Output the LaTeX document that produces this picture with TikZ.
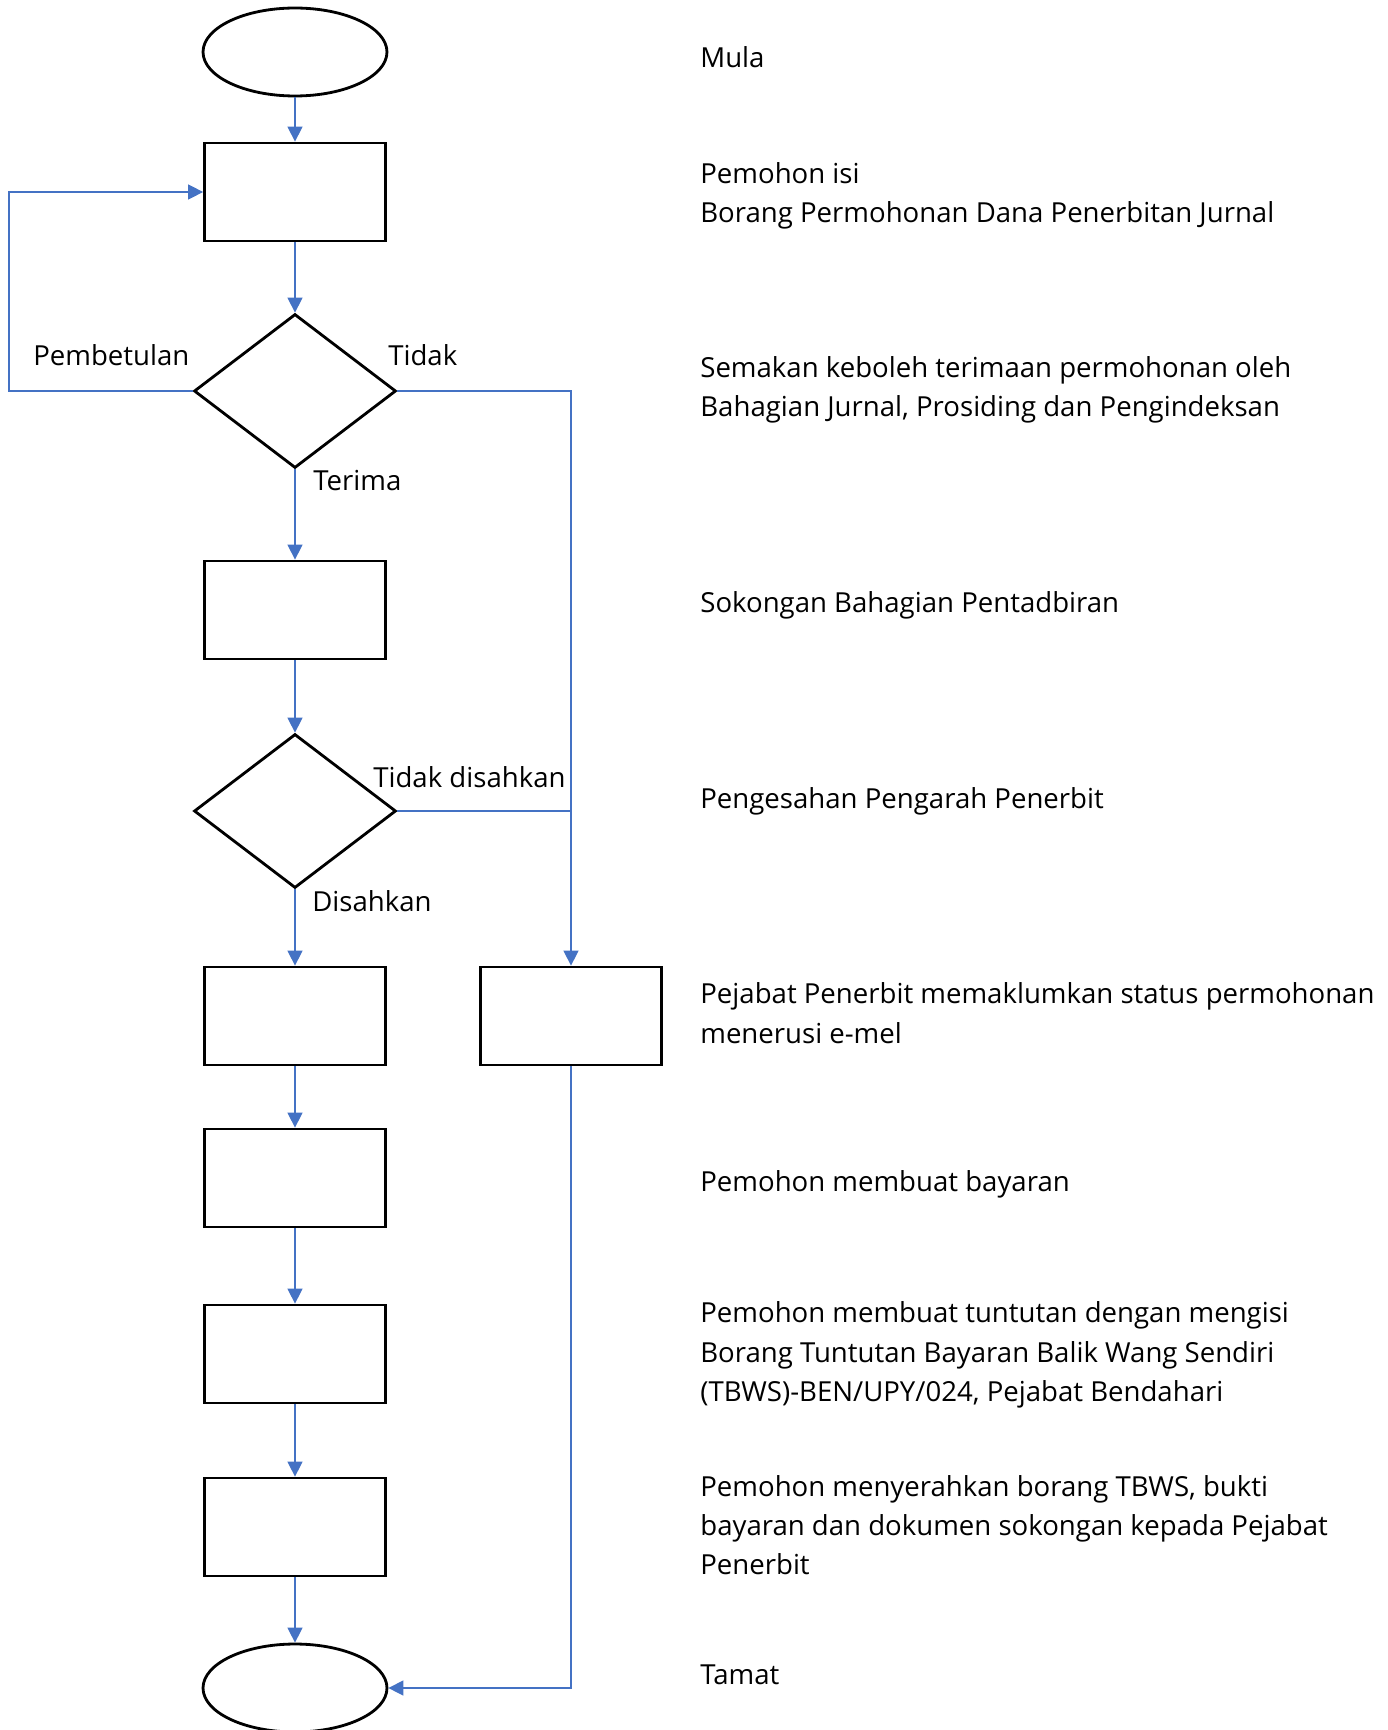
\documentclass[tikz,border=0pt]{standalone}
\usepackage{fontspec}
\setmainfont{Open Sans}
\usetikzlibrary{arrows.meta,shapes.geometric}
\definecolor{flowblue}{HTML}{4472C4}

\begin{document}
\begin{tikzpicture}[x=0.02cm,y=-0.02cm,
  font=\fontsize{15.7}{22.4}\selectfont,
  proc/.style={draw,line width=1.6pt,minimum width=3.62cm,minimum height=1.96cm,inner sep=0pt},
  term/.style={draw,ellipse,line width=1.6pt,minimum width=3.68cm,minimum height=1.76cm,inner sep=0pt},
  dec/.style={draw,diamond,line width=1.6pt,minimum width=4.04cm,minimum height=3.08cm,inner sep=0pt},
  link/.style={draw=flowblue,line width=0.8pt},
  arr/.style={link,-{Triangle[length=0.3cm,width=0.3cm]}},
  desc/.style={anchor=west,align=left,inner sep=0pt},
  lbl/.style={anchor=west,inner sep=0pt}]
\useasboundingbox (0,0) rectangle (1388,1730);

\path (295,52)   node[term] (E1) {};
\path (295,192)  node[proc] (B1) {};
\path (295,391)  node[dec]  (D1) {};
\path (295,610)  node[proc] (B2) {};
\path (295,811)  node[dec]  (D2) {};
\path (295,1016) node[proc] (B3) {};
\path (571,1016) node[proc] (B7) {};
\path (295,1178) node[proc] (B4) {};
\path (295,1354) node[proc] (B5) {};
\path (295,1527) node[proc] (B6) {};
\path (295,1688) node[term] (E2) {};
\coordinate (L1) at (9,391);

\path (700,57)   node[desc] (T1) {Mula};
\path (700,196)  node[desc] (T2) {Pemohon isi\\Borang Permohonan Dana Penerbitan Jurnal};
\path (700,390)  node[desc] (T3) {Semakan keboleh terimaan permohonan oleh\\Bahagian Jurnal, Prosiding dan Pengindeksan};
\path (700,605)  node[desc] (T4) {Sokongan Bahagian Pentadbiran};
\path (700,801)  node[desc] (T5) {Pengesahan Pengarah Penerbit};
\path (700,1013) node[desc] (T6) {Pejabat Penerbit memaklumkan status permohonan\\menerusi e-mel};
\path (700,1184) node[desc] (T7) {Pemohon membuat bayaran};
\path (700,1355) node[desc] (T8) {Pemohon membuat tuntutan dengan mengisi\\Borang Tuntutan Bayaran Balik Wang Sendiri\\(TBWS)-BEN/UPY/024, Pejabat Bendahari};
\path (700,1525) node[desc] (T9) {Pemohon menyerahkan borang TBWS, bukti\\bayaran dan dokumen sokongan kepada Pejabat\\Penerbit};
\path (700,1675) node[desc] (T10) {Tamat};

\path (33,355)  node[lbl] (P1) {Pembetulan};
\path (388,355) node[lbl] (P2) {Tidak};
\path (313,481) node[lbl] (P3) {Terima};
\path (373,777) node[lbl] (P4) {Tidak disahkan};
\path (312,901) node[lbl] (P5) {Disahkan};

\draw[arr] (E1) to (B1);
\draw[arr] (B1) to (D1);
\draw[arr] (D1) to (B2);
\draw[arr] (B2) to (D2);
\draw[arr] (D2) to (B3);
\draw[arr] (B3) to (B4);
\draw[arr] (B4) to (B5);
\draw[arr] (B5) to (B6);
\draw[arr] (B6) to (E2);

\draw[arr] (D1.west) -- (L1) |- (B1.west);
\draw[arr] (D1.east) -| (B7.north);
\draw[link] (D2.east) -- (D2.east -| B7.north);
\draw[arr] (B7.south) |- (E2.east);
\end{tikzpicture}
\end{document}
